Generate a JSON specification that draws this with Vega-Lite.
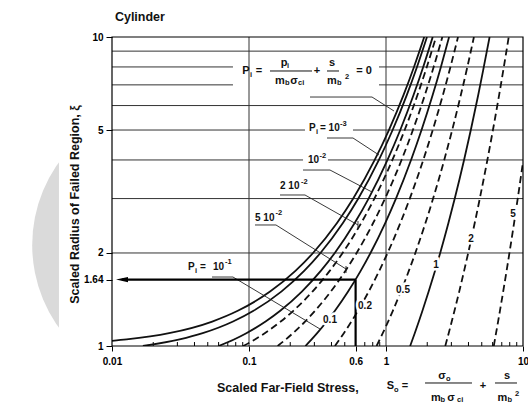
{
  "$schema": "https://vega.github.io/schema/vega-lite/v6.json",
  "width": 411,
  "height": 309,
  "autosize": {"type": "none"},
  "padding": {"left": 112, "top": 37, "right": 5, "bottom": 66},
  "background": "white",
  "config": {"view": {"stroke": null}},
  "datasets": {
    "curves": [
      {"P": 0, "x": 0.01, "y": 1.0393}, {"P": 0, "x": 0.01279, "y": 1.05}, {"P": 0, "x": 0.0261, "y": 1.1}, {"P": 0, "x": 0.05389, "y": 1.2}, {"P": 0, "x": 0.0828, "y": 1.3}, {"P": 0, "x": 0.14247, "y": 1.5}, {"P": 0, "x": 0.2182, "y": 1.75}, {"P": 0, "x": 0.2934, "y": 2}, {"P": 0, "x": 0.43897, "y": 2.5}, {"P": 0, "x": 0.57639, "y": 3}, {"P": 0, "x": 0.82703, "y": 4}, {"P": 0, "x": 1.04993, "y": 5}, {"P": 0, "x": 1.34386, "y": 6.5}, {"P": 0, "x": 1.60088, "y": 8}, {"P": 0, "x": 1.90112, "y": 10},
      {"P": 0.001, "x": 0.01681, "y": 1}, {"P": 0.001, "x": 0.03115, "y": 1.05}, {"P": 0.001, "x": 0.04592, "y": 1.1}, {"P": 0.001, "x": 0.07647, "y": 1.2}, {"P": 0.001, "x": 0.10791, "y": 1.3}, {"P": 0.001, "x": 0.1721, "y": 1.5}, {"P": 0.001, "x": 0.25271, "y": 1.75}, {"P": 0.001, "x": 0.33213, "y": 2}, {"P": 0.001, "x": 0.48476, "y": 2.5}, {"P": 0.001, "x": 0.62794, "y": 3}, {"P": 0.001, "x": 0.88768, "y": 4}, {"P": 0.001, "x": 1.11764, "y": 5}, {"P": 0.001, "x": 1.41986, "y": 6.5}, {"P": 0.001, "x": 1.68345, "y": 8}, {"P": 0.001, "x": 1.99075, "y": 10},
      {"P": 0.01, "x": 0.06, "y": 1}, {"P": 0.01, "x": 0.07767, "y": 1.05}, {"P": 0.01, "x": 0.09563, "y": 1.1}, {"P": 0.01, "x": 0.13212, "y": 1.2}, {"P": 0.01, "x": 0.16903, "y": 1.3}, {"P": 0.01, "x": 0.24301, "y": 1.5}, {"P": 0.01, "x": 0.33416, "y": 1.75}, {"P": 0.01, "x": 0.42271, "y": 2}, {"P": 0.01, "x": 0.5906, "y": 2.5}, {"P": 0.01, "x": 0.74625, "y": 3}, {"P": 0.01, "x": 1.02566, "y": 4}, {"P": 0.01, "x": 1.27088, "y": 5}, {"P": 0.01, "x": 1.59104, "y": 6.5}, {"P": 0.01, "x": 1.86882, "y": 8}, {"P": 0.01, "x": 2.19138, "y": 10},
      {"P": 0.02, "x": 0.09071, "y": 1}, {"P": 0.02, "x": 0.1104, "y": 1.05}, {"P": 0.02, "x": 0.13029, "y": 1.1}, {"P": 0.02, "x": 0.17039, "y": 1.2}, {"P": 0.02, "x": 0.21061, "y": 1.3}, {"P": 0.02, "x": 0.29052, "y": 1.5}, {"P": 0.02, "x": 0.38805, "y": 1.75}, {"P": 0.02, "x": 0.48214, "y": 2}, {"P": 0.02, "x": 0.65927, "y": 2.5}, {"P": 0.02, "x": 0.82247, "y": 3}, {"P": 0.02, "x": 1.11379, "y": 4}, {"P": 0.02, "x": 1.36826, "y": 5}, {"P": 0.02, "x": 1.69929, "y": 6.5}, {"P": 0.02, "x": 1.98567, "y": 8}, {"P": 0.02, "x": 2.31747, "y": 10},
      {"P": 0.05, "x": 0.1618, "y": 1}, {"P": 0.05, "x": 0.18551, "y": 1.05}, {"P": 0.05, "x": 0.20921, "y": 1.1}, {"P": 0.05, "x": 0.25646, "y": 1.2}, {"P": 0.05, "x": 0.30327, "y": 1.3}, {"P": 0.05, "x": 0.39494, "y": 1.5}, {"P": 0.05, "x": 0.50514, "y": 1.75}, {"P": 0.05, "x": 0.6102, "y": 2}, {"P": 0.05, "x": 0.80566, "y": 2.5}, {"P": 0.05, "x": 0.98385, "y": 3}, {"P": 0.05, "x": 1.29882, "y": 4}, {"P": 0.05, "x": 1.57162, "y": 5}, {"P": 0.05, "x": 1.92421, "y": 6.5}, {"P": 0.05, "x": 2.22766, "y": 8}, {"P": 0.05, "x": 2.5778, "y": 10},
      {"P": 0.1, "x": 0.25811, "y": 1}, {"P": 0.1, "x": 0.28634, "y": 1.05}, {"P": 0.1, "x": 0.31435, "y": 1.1}, {"P": 0.1, "x": 0.36966, "y": 1.2}, {"P": 0.1, "x": 0.42388, "y": 1.3}, {"P": 0.1, "x": 0.5288, "y": 1.5}, {"P": 0.1, "x": 0.65328, "y": 1.75}, {"P": 0.1, "x": 0.7707, "y": 2}, {"P": 0.1, "x": 0.98684, "y": 2.5}, {"P": 0.1, "x": 1.18191, "y": 3}, {"P": 0.1, "x": 1.52353, "y": 4}, {"P": 0.1, "x": 1.817, "y": 5}, {"P": 0.1, "x": 2.19389, "y": 6.5}, {"P": 0.1, "x": 2.51657, "y": 8}, {"P": 0.1, "x": 2.88738, "y": 10},
      {"P": 0.2, "x": 0.42361, "y": 1}, {"P": 0.2, "x": 0.45822, "y": 1.05}, {"P": 0.2, "x": 0.49233, "y": 1.1}, {"P": 0.2, "x": 0.55903, "y": 1.2}, {"P": 0.2, "x": 0.62373, "y": 1.3}, {"P": 0.2, "x": 0.7474, "y": 1.5}, {"P": 0.2, "x": 0.89207, "y": 1.75}, {"P": 0.2, "x": 1.02699, "y": 2}, {"P": 0.2, "x": 1.27235, "y": 2.5}, {"P": 0.2, "x": 1.49131, "y": 3}, {"P": 0.2, "x": 1.8706, "y": 4}, {"P": 0.2, "x": 2.1933, "y": 5}, {"P": 0.2, "x": 2.60456, "y": 6.5}, {"P": 0.2, "x": 2.95443, "y": 8}, {"P": 0.2, "x": 3.35447, "y": 10},
      {"P": 0.5, "x": 0.85356, "y": 1}, {"P": 0.5, "x": 0.94705, "y": 1.1}, {"P": 0.5, "x": 1.03637, "y": 1.2}, {"P": 0.5, "x": 1.12187, "y": 1.3}, {"P": 0.5, "x": 1.28273, "y": 1.5}, {"P": 0.5, "x": 1.46747, "y": 1.75}, {"P": 0.5, "x": 1.63708, "y": 2}, {"P": 0.5, "x": 1.94044, "y": 2.5}, {"P": 0.5, "x": 2.20678, "y": 3}, {"P": 0.5, "x": 2.66084, "y": 4}, {"P": 0.5, "x": 3.04154, "y": 5}, {"P": 0.5, "x": 3.52098, "y": 6.5}, {"P": 0.5, "x": 3.92482, "y": 8}, {"P": 0.5, "x": 4.38285, "y": 10},
      {"P": 1, "x": 1.5, "y": 1}, {"P": 1, "x": 1.62141, "y": 1.1}, {"P": 1, "x": 1.73621, "y": 1.2}, {"P": 1, "x": 1.84516, "y": 1.3}, {"P": 1, "x": 2.04793, "y": 1.5}, {"P": 1, "x": 2.27782, "y": 1.75}, {"P": 1, "x": 2.48654, "y": 2}, {"P": 1, "x": 2.85526, "y": 2.5}, {"P": 1, "x": 3.175, "y": 3}, {"P": 1, "x": 3.71332, "y": 4}, {"P": 1, "x": 4.15938, "y": 5}, {"P": 1, "x": 4.71566, "y": 6.5}, {"P": 1, "x": 5.17407, "y": 8}, {"P": 1, "x": 5.70371, "y": 10},
      {"P": 2, "x": 2.7071, "y": 1}, {"P": 2, "x": 2.86799, "y": 1.1}, {"P": 2, "x": 3.01883, "y": 1.2}, {"P": 2, "x": 3.16093, "y": 1.3}, {"P": 2, "x": 3.42298, "y": 1.5}, {"P": 2, "x": 3.71672, "y": 1.75}, {"P": 2, "x": 3.98076, "y": 2}, {"P": 2, "x": 4.4419, "y": 2.5}, {"P": 2, "x": 4.83716, "y": 3}, {"P": 2, "x": 5.49465, "y": 4}, {"P": 2, "x": 6.03313, "y": 5}, {"P": 2, "x": 6.69809, "y": 6.5}, {"P": 2, "x": 7.24813, "y": 8}, {"P": 2, "x": 7.86457, "y": 10},
      {"P": 5, "x": 6.11803, "y": 1}, {"P": 5, "x": 6.35725, "y": 1.1}, {"P": 5, "x": 6.5796, "y": 1.2}, {"P": 5, "x": 6.78748, "y": 1.3}, {"P": 5, "x": 7.16715, "y": 1.5}, {"P": 5, "x": 7.58758, "y": 1.75}, {"P": 5, "x": 7.96135, "y": 2}, {"P": 5, "x": 8.60589, "y": 2.5}, {"P": 5, "x": 9.15099, "y": 3}, {"P": 5, "x": 9.62485, "y": 3.5}, {"P": 5, "x": 10, "y": 3.9437}
    ],
    "hgrid": [
      {"x": 0.01, "x2": 10, "y": 9}, {"x": 0.01, "x2": 0.0764, "y": 8}, {"x": 0.8891, "x2": 10, "y": 8},
      {"x": 0.01, "x2": 0.0764, "y": 7}, {"x": 0.8891, "x2": 10, "y": 7}, {"x": 0.01, "x2": 10, "y": 6},
      {"x": 0.01, "x2": 0.2563, "y": 5}, {"x": 0.5742, "x2": 10, "y": 5},
      {"x": 0.01, "x2": 0.2479, "y": 4}, {"x": 0.3772, "x2": 10, "y": 4},
      {"x": 0.01, "x2": 10, "y": 3}, {"x": 0.01, "x2": 10, "y": 2}
    ],
    "vgrid": [{"x": 0.1, "y": 1, "y2": 10}, {"x": 1, "y": 1, "y2": 10}],
    "minor": [
      {"x": 0.02, "y": 1, "y2": 1.03}, {"x": 0.03, "y": 1, "y2": 1.03}, {"x": 0.04, "y": 1, "y2": 1.03}, {"x": 0.05, "y": 1, "y2": 1.03}, {"x": 0.06, "y": 1, "y2": 1.03}, {"x": 0.07, "y": 1, "y2": 1.03}, {"x": 0.08, "y": 1, "y2": 1.03}, {"x": 0.09, "y": 1, "y2": 1.03},
      {"x": 0.2, "y": 1, "y2": 1.03}, {"x": 0.3, "y": 1, "y2": 1.03}, {"x": 0.4, "y": 1, "y2": 1.03}, {"x": 0.5, "y": 1, "y2": 1.03}, {"x": 0.7, "y": 1, "y2": 1.03}, {"x": 0.8, "y": 1, "y2": 1.03}, {"x": 0.9, "y": 1, "y2": 1.03},
      {"x": 2, "y": 1, "y2": 1.03}, {"x": 3, "y": 1, "y2": 1.03}, {"x": 4, "y": 1, "y2": 1.03}, {"x": 5, "y": 1, "y2": 1.03}, {"x": 6, "y": 1, "y2": 1.03}, {"x": 7, "y": 1, "y2": 1.03}, {"x": 8, "y": 1, "y2": 1.03}, {"x": 9, "y": 1, "y2": 1.03}
    ],
    "leaders": [
      {"x": 0.2788, "y": 6.394, "x2": 0.7904, "y2": 6.394}, {"x": 0.7904, "y": 6.394, "x2": 1.144, "y2": 5.761},
      {"x": 0.371, "y": 4.711, "x2": 0.5742, "y2": 4.711}, {"x": 0.5742, "y": 4.711, "x2": 0.8891, "y2": 4.15},
      {"x": 0.2479, "y": 3.711, "x2": 0.3901, "y2": 3.711}, {"x": 0.3901, "y": 3.711, "x2": 0.7904, "y2": 3.15},
      {"x": 0.1684, "y": 3.081, "x2": 0.2563, "y2": 3.081}, {"x": 0.2563, "y": 3.081, "x2": 0.6245, "y2": 2.464}, {"x": 0.6245, "y": 2.538, "x2": 0.6245, "y2": 2.391},
      {"x": 0.1106, "y": 2.464, "x2": 0.1574, "y2": 2.464}, {"x": 0.1574, "y": 2.464, "x2": 0.5105, "y2": 1.775}, {"x": 0.5105, "y": 1.815, "x2": 0.5105, "y2": 1.723},
      {"x": 0.0537, "y": 1.672, "x2": 0.0764, "y2": 1.672}, {"x": 0.0764, "y": 1.672, "x2": 0.3298, "y2": 1.135}
    ],
    "bars": [
      {"x": 0.1423, "x2": 0.2884, "y": 7.762}, {"x": 0.371, "x2": 0.4539, "y": 7.762},
      {"x": 1.927, "x2": 4.243, "y": 0.7591}, {"x": 6.245, "x2": 9.04, "y": 0.7591}
    ],
    "arrow": [
      {"x": 0.6, "y": 1.64, "x2": 0.0118, "y2": 1.64}, {"x": 0.6, "y": 1, "x2": 0.6, "y2": 1.64}
    ],
    "titles": [
      {"x": 0.0105, "y": 11.61, "t": "Cylinder"},
      {"x": 0.0584, "y": 0.7312, "t": "Scaled Far-Field Stress,"}
    ],
    "ytitle": [{"x": 0.005369, "y": 2.8708, "t": "Scaled Radius of Failed Region,   ξ"}],
    "fmain": [
      {"x": 0.09508, "y": 7.762, "t": "P"}, {"x": 0.1183, "y": 7.762, "t": "="}, {"x": 0.1801, "y": 8.239, "t": "p"},
      {"x": 0.1684, "y": 7.205, "t": "m"}, {"x": 0.213, "y": 7.205, "t": "σ"}, {"x": 0.3136, "y": 7.762, "t": "+"},
      {"x": 0.4035, "y": 8.239, "t": "s"}, {"x": 0.4035, "y": 7.205, "t": "m"}, {"x": 0.6909, "y": 7.762, "t": "= 0"},
      {"x": 1.078, "y": 0.7423, "t": "S"}, {"x": 1.376, "y": 0.7423, "t": "="}, {"x": 2.563, "y": 0.7998, "t": "σ"},
      {"x": 2.317, "y": 0.6787, "t": "m"}, {"x": 2.982, "y": 0.6787, "t": "σ"}, {"x": 5.105, "y": 0.7423, "t": "+"},
      {"x": 7.641, "y": 0.7998, "t": "s"}, {"x": 7.087, "y": 0.6787, "t": "m"}
    ],
    "fsub": [
      {"x": 0.1017, "y": 7.534, "t": "i"}, {"x": 0.1894, "y": 8.055, "t": "i"}, {"x": 0.1832, "y": 7.098, "t": "b"},
      {"x": 0.2279, "y": 7.098, "t": "ci"}, {"x": 0.4388, "y": 7.098, "t": "b"}, {"x": 0.502, "y": 7.424, "t": "2"},
      {"x": 1.144, "y": 0.7204, "t": "o"}, {"x": 2.742, "y": 0.7819, "t": "o"}, {"x": 2.499, "y": 0.6687, "t": "b"},
      {"x": 3.298, "y": 0.6687, "t": "ci"}, {"x": 7.707, "y": 0.6687, "t": "b"}, {"x": 8.743, "y": 0.6993, "t": "2"},
      {"x": 0.3084, "y": 4.927, "t": "i"}, {"x": 0.4617, "y": 5.229, "t": "-3"}, {"x": 0.327, "y": 4.12, "t": "-2"},
      {"x": 0.2397, "y": 3.394, "t": "-2"}, {"x": 0.1561, "y": 2.694, "t": "-2"}, {"x": 0.04035, "y": 1.7486, "t": "i"},
      {"x": 0.06681, "y": 1.87, "t": "-1"}
    ],
    "lmain": [
      {"x": 0.2742, "y": 5.077, "t": "P"}, {"x": 0.3298, "y": 5.077, "t": "= 10"}, {"x": 0.2696, "y": 3.999, "t": "10"},
      {"x": 0.1684, "y": 3.294, "t": "2 10"}, {"x": 0.1106, "y": 2.596, "t": "5 10"}, {"x": 0.03587, "y": 1.802, "t": "P"},
      {"x": 0.04389, "y": 1.802, "t": "="}, {"x": 0.05461, "y": 1.802, "t": "10"}
    ],
    "lcenter": [
      {"x": 0.3901, "y": 1.214, "t": "0.1"}, {"x": 0.7027, "y": 1.347, "t": "0.2"}, {"x": 1.331, "y": 1.518, "t": "0.5"},
      {"x": 2.317, "y": 1.829, "t": "1"}, {"x": 4.173, "y": 2.22, "t": "2"}, {"x": 8.453, "y": 2.674, "t": "5"}
    ]
  },
  "encoding": {
    "x": {
      "field": "x", "type": "quantitative",
      "scale": {"type": "log", "domain": [0.01, 10], "nice": false},
      "axis": {"values": [0.01, 0.1, 0.6, 1, 10], "format": "~g", "title": null, "grid": false, "domain": false,
        "tickSize": 5, "tickColor": "#000", "labelFont": "Liberation Sans", "labelFontWeight": "bold", "labelFontSize": 10,
        "labelColor": "#000", "labelPadding": 5, "labelFlush": false, "labelOverlap": false, "labelBound": false, "zindex": 1}
    },
    "y": {
      "field": "y", "type": "quantitative",
      "scale": {"type": "log", "domain": [1, 10], "nice": false},
      "axis": {"values": [1, 1.64, 2, 5, 10], "format": "~g", "title": null, "grid": false, "domain": false,
        "tickSize": 6, "tickColor": "#000", "labelFont": "Liberation Sans", "labelFontWeight": "bold", "labelFontSize": 10,
        "labelColor": "#000", "labelPadding": 3, "labelFlush": false, "labelOverlap": false, "labelBound": false, "zindex": 1}
    }
  },
  "layer": [
    {"data": {"values": [{"x": 0.02835, "y": 2.123}]}, "mark": {"type": "point", "shape": "circle", "filled": true, "size": 80425, "color": "#dadada", "opacity": 1, "strokeWidth": 0}},
    {"data": {"values": [{"x": 0.0041, "x2": 12, "y": 0.6, "y2": 14}]}, "mark": {"type": "rect", "color": "white"}, "encoding": {"x2": {"field": "x2"}, "y2": {"field": "y2"}}},
    {"data": {"name": "hgrid"}, "mark": {"type": "rule", "color": "#333", "strokeWidth": 1}, "encoding": {"x2": {"field": "x2"}}},
    {"data": {"name": "vgrid"}, "mark": {"type": "rule", "color": "#333", "strokeWidth": 1}, "encoding": {"y2": {"field": "y2"}}},
    {"data": {"name": "minor"}, "mark": {"type": "rule", "color": "#000", "strokeWidth": 1}, "encoding": {"y2": {"field": "y2"}}},
    {"data": {"name": "curves"}, "transform": [{"filter": {"field": "P", "oneOf": [0, 0.001, 0.01, 0.1, 1]}}],
      "mark": {"type": "line", "interpolate": "monotone", "color": "#111", "strokeWidth": 1.8, "clip": true},
      "encoding": {"detail": {"field": "P"}, "order": {"field": "y"}}},
    {"data": {"name": "curves"}, "transform": [{"filter": {"field": "P", "oneOf": [0.02, 0.05, 0.2, 0.5, 2, 5]}}],
      "mark": {"type": "line", "interpolate": "monotone", "color": "#111", "strokeWidth": 1.8, "strokeDash": [7, 4], "clip": true},
      "encoding": {"detail": {"field": "P"}, "order": {"field": "y"}}},
    {"data": {"name": "leaders"}, "mark": {"type": "rule", "color": "#222", "strokeWidth": 0.9}, "encoding": {"x2": {"field": "x2"}, "y2": {"field": "y2"}}},
    {"data": {"name": "bars"}, "mark": {"type": "rule", "color": "#111", "strokeWidth": 1}, "encoding": {"x2": {"field": "x2"}}},
    {"data": {"name": "arrow"}, "mark": {"type": "rule", "color": "#000", "strokeWidth": 2.2}, "encoding": {"x2": {"field": "x2"}, "y2": {"field": "y2"}}},
    {"data": {"values": [{"x": 0.01183, "y": 1.64}]}, "mark": {"type": "point", "shape": "M-1,0L1,-0.45L1,0.45Z", "filled": true, "size": 144, "color": "#000", "opacity": 1}},
    {"data": {"values": [{"x": 0.01, "x2": 10, "y": 1, "y2": 10}]}, "mark": {"type": "rect", "filled": false, "stroke": "#000", "strokeWidth": 1.2}, "encoding": {"x2": {"field": "x2"}, "y2": {"field": "y2"}}},
    {"data": {"name": "titles"}, "mark": {"type": "text", "font": "Liberation Sans", "fontWeight": "bold", "fontSize": 12.5, "align": "left", "baseline": "middle", "color": "#111"}, "encoding": {"text": {"field": "t"}}},
    {"data": {"name": "ytitle"}, "mark": {"type": "text", "font": "Liberation Sans", "fontWeight": "bold", "fontSize": 12.5, "align": "center", "baseline": "middle", "angle": 270, "color": "#111"}, "encoding": {"text": {"field": "t"}}},
    {"data": {"name": "fmain"}, "mark": {"type": "text", "font": "Liberation Sans", "fontWeight": "bold", "fontSize": 11, "align": "center", "baseline": "middle", "color": "#111"}, "encoding": {"text": {"field": "t"}}},
    {"data": {"name": "fsub"}, "mark": {"type": "text", "font": "Liberation Sans", "fontWeight": "bold", "fontSize": 7.5, "align": "left", "baseline": "middle", "color": "#111"}, "encoding": {"text": {"field": "t"}}},
    {"data": {"name": "lmain"}, "mark": {"type": "text", "font": "Liberation Sans", "fontWeight": "bold", "fontSize": 10, "align": "left", "baseline": "middle", "color": "#111"}, "encoding": {"text": {"field": "t"}}},
    {"data": {"name": "lcenter"}, "mark": {"type": "text", "font": "Liberation Sans", "fontWeight": "bold", "fontSize": 10, "align": "center", "baseline": "middle", "color": "white", "stroke": "white", "strokeWidth": 5}, "encoding": {"text": {"field": "t"}}},
    {"data": {"name": "lcenter"}, "mark": {"type": "text", "font": "Liberation Sans", "fontWeight": "bold", "fontSize": 10, "align": "center", "baseline": "middle", "color": "#111"}, "encoding": {"text": {"field": "t"}}}
  ]
}
